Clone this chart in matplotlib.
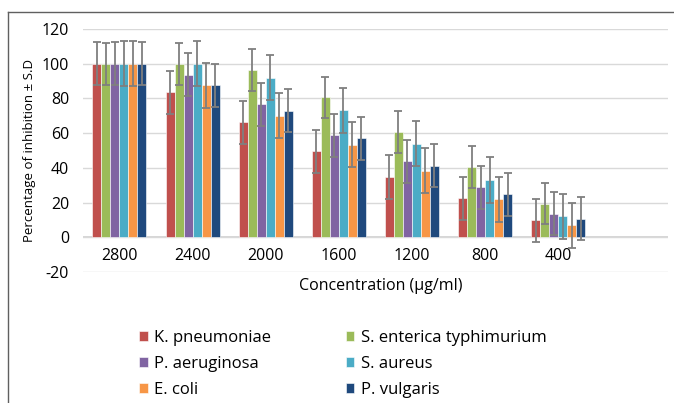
import numpy as np
import matplotlib.pyplot as plt
from matplotlib.lines import Line2D

plt.rcParams['font.family'] = ['Open Sans', 'DejaVu Sans']
plt.rcParams['axes.unicode_minus'] = False

conc = ['2800', '2400', '2000', '1600', '1200', '800', '400', '']
series = ['K. pneumoniae', 'S. enterica typhimurium', 'P. aeruginosa',
          'S. aureus', 'E. coli', 'P. vulgaris']
k_pn = [100, 83.5, 66.3, 49.6, 34.8, 22.5, 9.8]
s_ent = [100, 100, 96.5, 80.6, 60.8, 40.4, 19.4]
p_aer = [100, 93.7, 76.7, 58.8, 43.7, 28.7, 13.7]
s_aur = [100, 100, 92, 73.3, 54, 33, 12]
e_col = [100, 87.5, 70, 53.3, 38.3, 22, 7]
p_vul = [100, 87.5, 72.9, 57, 41.2, 24.8, 10.6]
sd = [12.5, 12, 12.4, 13, 13, 12.4]
colors = ['#C0504D', '#9BBB59', '#8064A2', '#4BACC6', '#F79646', '#1F497D']
values = [k_pn, s_ent, p_aer, s_aur, e_col, p_vul]

fig = plt.figure(figsize=(6.74, 4.03), dpi=100)
ax = fig.add_axes([0.123, 0.325, 0.868, 0.603])

x = np.arange(len(conc) - 1)
w = 0.123
handles = []
for i, (vals, c, lab) in enumerate(zip(values, colors, series)):
    pos = x + (i - 2.5) * w
    b = ax.bar(pos, vals, w, color=c, edgecolor='white', linewidth=0.4, label=lab, zorder=2)
    handles.append(b)
    ax.errorbar(pos, vals, yerr=sd[i], fmt='none', ecolor='#7F7F7F',
                elinewidth=1.3, capsize=3, capthick=1.3, zorder=3)

ax.set_xlim(-0.5, len(conc) - 0.5)
ax.set_ylim(-20, 120)
ax.set_yticks(range(-20, 121, 20))
ax.set_xticks(range(len(conc)))
ax.set_xticklabels(conc)
ax.grid(axis='y', color='#D9D9D9', linewidth=1, zorder=0)
ax.axhline(0, color='#D0D0D0', linewidth=1.2, zorder=1)
for s in ax.spines.values():
    s.set_visible(False)
ax.spines['bottom'].set_position(('data', 0))
ax.tick_params(length=0, labelsize=11.5, colors='#000000')
ax.tick_params(axis='x', pad=8)
ax.tick_params(axis='y', pad=10)
ax.set_ylabel('Percentage of inhibition ± S.D', fontsize=9.5)
fig.text(0.565, 1 - 286 / 403, 'Concentration (µg/ml)', fontsize=11.5,
         ha='center', va='center')

# row-wise legend order: K, S.ent / P.aer, S.aur / E.coli, P.vul
order = [0, 2, 4, 1, 3, 5]
ax.legend([handles[i] for i in order], [series[i] for i in order],
          ncol=2, loc='upper left', bbox_to_anchor=(200 / 674 - 0.09, 1 - 330 / 403),
          bbox_transform=fig.transFigure, frameon=False,
          fontsize=12, handlelength=0.5, handleheight=0.5, handletextpad=0.4,
          columnspacing=4.45, labelspacing=0.6, borderaxespad=0, borderpad=0)

fig.add_artist(Line2D([8 / 674, 8 / 674], [0, 1 - 12 / 403], color='#606060', linewidth=1))
fig.add_artist(Line2D([8 / 674, 1], [1 - 12 / 403, 1 - 12 / 403], color='#606060', linewidth=1))

fig.savefig('out.png', dpi=100)
